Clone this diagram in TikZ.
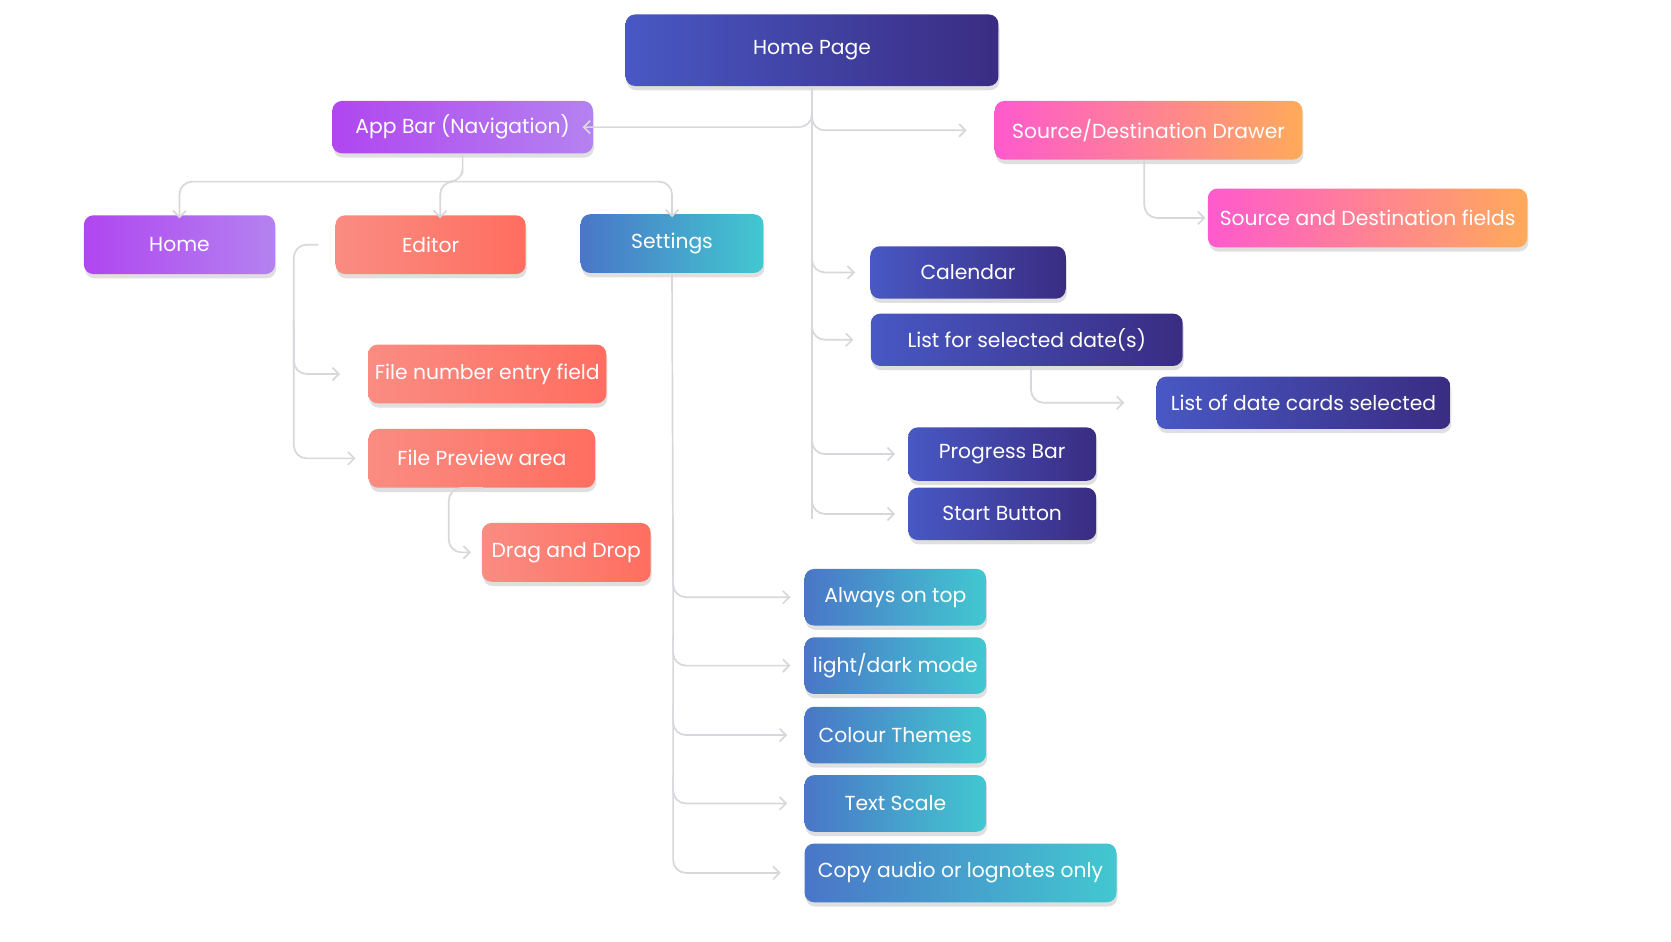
\documentclass[tikz,border=0pt]{standalone}
\usepackage{fontspec}
\setmainfont{Poppins}
\usetikzlibrary{arrows.meta,shadows}
\definecolor{dkL}{RGB}{72,88,196}\definecolor{dkR}{RGB}{58,44,130}
\definecolor{puL}{RGB}{176,70,240}\definecolor{puR}{RGB}{180,130,240}
\definecolor{coL}{RGB}{250,140,130}\definecolor{coR}{RGB}{255,110,96}
\definecolor{btL}{RGB}{74,118,200}\definecolor{btR}{RGB}{66,200,208}
\definecolor{poL}{RGB}{255,90,205}\definecolor{poR}{RGB}{255,170,90}
\definecolor{ln}{RGB}{215,215,220}
\tikzset{
 box/.style={rounded corners=9pt,text=white,font=\fontsize{19}{22}\selectfont,inner sep=0pt,
   drop shadow={shadow xshift=1pt,shadow yshift=-4pt,opacity=0.25}},
 dk/.style={box,left color=dkL,right color=dkR},
 pu/.style={box,left color=puL,right color=puR},
 co/.style={box,left color=coL,right color=coR},
 bt/.style={box,left color=btL,right color=btR},
 po/.style={box,left color=poL,right color=poR},
 con/.style={draw=ln,line width=1.6pt,rounded corners=12pt,-{Straight Barb[length=6pt,width=12pt]}},
 lin/.style={draw=ln,line width=1.6pt,rounded corners=12pt},
}
\begin{document}
\begin{tikzpicture}[x=1pt,y=-1pt]
\useasboundingbox (0,0) rectangle (1564,881);
\newcommand\bx[6]{\node[#1,minimum width=#4pt,minimum height=#5pt] (#2) at (#3) {#6};}
\bx{dk}{hp}{760,47}{349}{67}{Home Page}
\bx{pu}{ab}{433,119}{244}{49}{App Bar (Navigation)}
\bx{po}{sd}{1075,122}{288}{55}{Source/Destination Drawer}
\bx{po}{sf}{1280,204}{299}{55}{Source and Destination fields}
\bx{pu}{home}{168,229}{179}{55}{Home}
\bx{co}{ed}{403,229}{178}{55}{Editor}
\bx{bt}{set}{629,228}{171}{55}{Settings}
\bx{dk}{cal}{906,255}{183}{49}{Calendar}
\bx{dk}{lsd}{961,318}{292}{49}{List for selected date(s)}
\bx{dk}{ldc}{1220,377}{275}{49}{List of date cards selected}
\bx{dk}{pb}{938,425}{176}{50}{Progress Bar}
\bx{dk}{sb}{938,481}{176}{49}{Start Button}
\bx{co}{fn}{456,350}{223}{55}{File number entry field}
\bx{co}{fp}{451,429}{212}{55}{File Preview area}
\bx{co}{dd}{530,517}{158}{55}{Drag and Drop}
\bx{bt}{aot}{838,559}{170}{53}{Always on top}
\bx{bt}{ldm}{838,623}{170}{53}{light/dark mode}
\bx{bt}{ct}{838,688}{170}{53}{Colour Themes}
\bx{bt}{ts}{838,752}{170}{53}{Text Scale}
\bx{bt}{ca}{899,817}{292}{55}{Copy audio or lognotes only}
% home page trunk
\coordinate (t0) at (760,95);
\draw[lin] (hp.south) -- (760,486);
\draw[con] (t0) |- ([xshift=-10pt]ab.east);
\draw[con] (t0) |- ([xshift=-26pt,yshift=0pt]sd.west);
\draw[con] (760,230) |- ([xshift=-14pt]cal.west);
\draw[con] (760,295) |- ([xshift=-16pt]lsd.west);
\draw[con] (760,400) |- ([xshift=-12pt]pb.west);
\draw[con] (760,456) |- ([xshift=-12pt]sb.west);
% app bar
\coordinate (a0) at (433,170);
\draw[con] (ab.south) |- (a0) -| ([yshift=-3pt]home.north);
\draw[con] (a0) -| ([xshift=9pt,yshift=-3pt]ed.north);
\draw[con] (a0) -| ([yshift=-3pt]set.north);
% editor
\coordinate (e0) at (298,229);
\draw[con] (e0) -| (275,300) |- ([xshift=-26pt]fn.west);
\draw[con] (275,300) |- ([xshift=-12pt]fp.west);
% file preview
\draw[con] ([xshift=1pt]fp.south) -| (420,485) |- ([xshift=-10pt]dd.west);
% settings
\draw[lin] (set.south) -- (630,540);
\draw[con] (630,535) |- ([xshift=-13pt]aot.west);
\draw[con] (630,595) |- ([xshift=-13pt]ldm.west);
\draw[con] (630,660) |- ([xshift=-16pt]ct.west);
\draw[con] (630,725) |- ([xshift=-16pt]ts.west);
\draw[con] (630,530) |- ([xshift=-22pt]ca.west);
% drawer
\draw[con] ([xshift=-4pt]sd.south) |- ([xshift=-2pt]sf.west);
% list
\draw[con] ([xshift=4pt]lsd.south) |- ([xshift=-30pt]ldc.west);
\end{tikzpicture}
\end{document}
